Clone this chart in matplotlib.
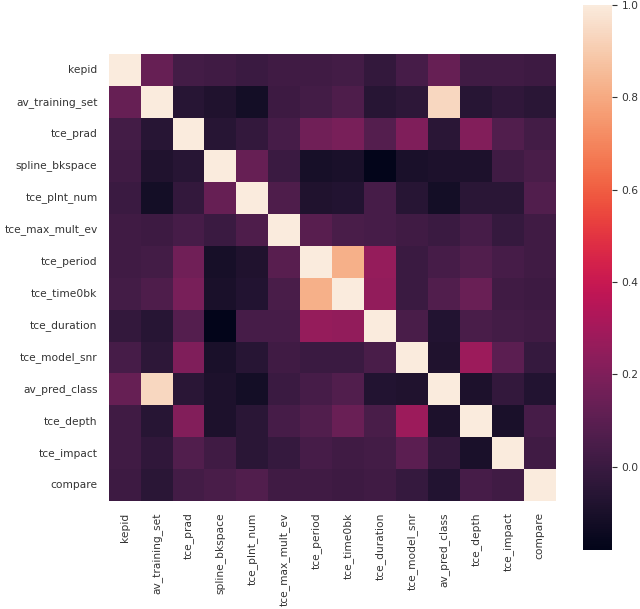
import numpy as np
import matplotlib
matplotlib.use("Agg")
import matplotlib.pyplot as plt
import seaborn as sns

# nomes das colunas
colunas = [
    "kepid", "av_training_set", "tce_prad", "spline_bkspace", "tce_plnt_num",
    "tce_max_mult_ev", "tce_period", "tce_time0bk", "tce_duration",
    "tce_model_snr", "av_pred_class", "tce_depth", "tce_impact", "compare",
]

# matriz de correlação
corr = np.array([
    [1.00, 0.13, 0.03, 0.02, 0.00, 0.02, 0.02, 0.03, -0.02, 0.04, 0.13, 0.02, 0.02, 0.01],
    [0.13, 1.00, -0.06, -0.08, -0.12, 0.01, 0.03, 0.06, -0.06, -0.04, 0.94, -0.06, -0.03, -0.05],
    [0.03, -0.06, 1.00, -0.06, -0.02, 0.04, 0.16, 0.18, 0.08, 0.20, -0.05, 0.21, 0.07, 0.03],
    [0.02, -0.08, -0.06, 1.00, 0.13, 0.00, -0.11, -0.10, -0.18, -0.10, -0.09, -0.09, 0.02, 0.05],
    [0.00, -0.12, -0.02, 0.13, 1.00, 0.06, -0.08, -0.07, 0.04, -0.06, -0.12, -0.05, -0.05, 0.07],
    [0.02, 0.01, 0.04, 0.00, 0.06, 1.00, 0.09, 0.05, 0.04, 0.02, 0.00, 0.04, -0.01, 0.02],
    [0.02, 0.03, 0.16, -0.11, -0.08, 0.09, 1.00, 0.82, 0.26, 0.00, 0.04, 0.07, 0.04, 0.02],
    [0.03, 0.06, 0.18, -0.10, -0.07, 0.05, 0.82, 1.00, 0.25, 0.00, 0.07, 0.14, 0.02, 0.01],
    [-0.02, -0.06, 0.08, -0.18, 0.04, 0.04, 0.26, 0.25, 1.00, 0.05, -0.07, 0.05, 0.03, 0.02],
    [0.04, -0.04, 0.20, -0.10, -0.06, 0.02, 0.00, 0.00, 0.05, 1.00, -0.08, 0.28, 0.10, -0.01],
    [0.13, 0.94, -0.05, -0.09, -0.12, 0.00, 0.04, 0.07, -0.07, -0.08, 1.00, -0.09, -0.02, -0.07],
    [0.02, -0.06, 0.21, -0.09, -0.05, 0.04, 0.07, 0.14, 0.05, 0.28, -0.09, 1.00, -0.10, 0.04],
    [0.02, -0.03, 0.07, 0.02, -0.05, -0.01, 0.04, 0.02, 0.03, 0.10, -0.02, -0.10, 1.00, 0.02],
    [0.01, -0.05, 0.03, 0.05, 0.07, 0.02, 0.02, 0.01, 0.02, -0.01, -0.07, 0.04, 0.02, 1.00],
])


def main():
    fig = plt.figure(figsize=(6.4, 6.09), dpi=100)
    ax = fig.add_axes([0.169, 0.177, 0.70, 0.734])
    cax = fig.add_axes([0.911, 0.097, 0.045, 0.895])

    sns.heatmap(
        corr,
        ax=ax,
        cbar_ax=cax,
        xticklabels=colunas,
        yticklabels=colunas,
        square=True,
    )

    ax.tick_params(axis="both", length=0, pad=8, labelsize=7.7, labelcolor="#333333")
    for t in ax.get_xticklabels():
        t.set_rotation(90)
    for t in ax.get_yticklabels():
        t.set_rotation(0)

    cax.tick_params(labelsize=7.7, labelcolor="#333333", color="#333333")

    fig.savefig("out.png", dpi=100)


if __name__ == "__main__":
    main()
